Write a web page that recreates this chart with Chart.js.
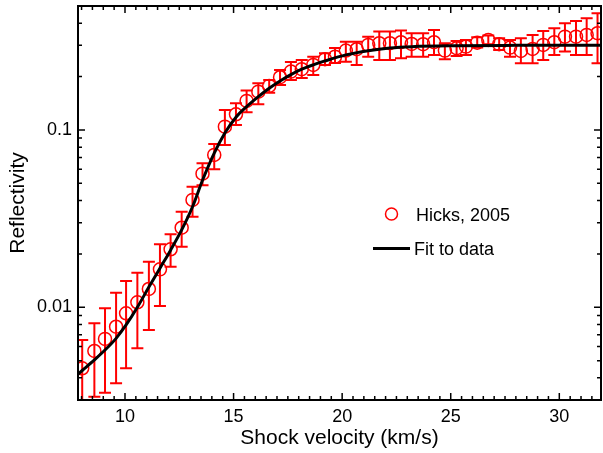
<!DOCTYPE html>
<html><head><meta charset="utf-8">
<script src="https://cdn.jsdelivr.net/npm/chart.js@4/dist/chart.umd.min.js"></script>
<style>html,body{margin:0;padding:0;background:#fff;} canvas{display:block;}</style>
</head><body>
<canvas id="c" width="603" height="453"></canvas>
<script>
// ---- data ----
const velocity = [8.03, 8.59, 9.08, 9.59, 10.05, 10.57, 11.10, 11.61, 12.10, 12.61, 13.11, 13.57, 14.11, 14.60, 15.11, 15.60, 16.14, 16.64, 17.14, 17.64, 18.14, 18.67, 19.21, 19.67, 20.17, 20.67, 21.20, 21.71, 22.20, 22.71, 23.20, 23.73, 24.23, 24.73, 25.27, 25.70, 26.22, 26.73, 27.23, 27.73, 28.23, 28.77, 29.26, 29.77, 30.26, 30.77, 31.26, 31.76];
const reflectivity = [0.00453, 0.00567, 0.00663, 0.00777, 0.00925, 0.01067, 0.01268, 0.01637, 0.02124, 0.0281, 0.0403, 0.0567, 0.0723, 0.1044, 0.1226, 0.1458, 0.1644, 0.1771, 0.1983, 0.2133, 0.2200, 0.2326, 0.2505, 0.2590, 0.2802, 0.2853, 0.3016, 0.3083, 0.3083, 0.3123, 0.3055, 0.3043, 0.3123, 0.2802, 0.2890, 0.2951, 0.3107, 0.3218, 0.3043, 0.2913, 0.2791, 0.2864, 0.3016, 0.3123, 0.3359, 0.3359, 0.3435, 0.3511];
const errHigh = [0.00654, 0.00813, 0.00987, 0.01209, 0.01407, 0.01567, 0.01807, 0.02266, 0.0258, 0.0346, 0.0479, 0.0649, 0.0834, 0.1297, 0.1414, 0.1667, 0.1834, 0.1914, 0.2181, 0.2418, 0.2482, 0.2590, 0.2708, 0.2901, 0.3148, 0.3148, 0.3359, 0.3585, 0.3585, 0.3632, 0.3511, 0.3511, 0.3664, 0.3083, 0.3177, 0.3218, 0.3333, 0.3404, 0.3290, 0.3218, 0.3290, 0.3435, 0.3617, 0.3746, 0.3997, 0.4119, 0.4266, 0.4551];
const errLow = [0.0025, 0.00313, 0.0033, 0.00373, 0.00453, 0.00587, 0.00745, 0.01017, 0.01694, 0.02197, 0.0324, 0.0488, 0.0600, 0.0823, 0.1067, 0.1258, 0.1396, 0.1623, 0.1794, 0.1914, 0.1965, 0.2043, 0.2326, 0.2387, 0.2428, 0.2326, 0.2590, 0.2482, 0.2482, 0.2538, 0.2590, 0.2590, 0.2649, 0.2505, 0.2614, 0.2649, 0.2913, 0.3043, 0.2827, 0.2590, 0.2378, 0.2378, 0.2482, 0.2649, 0.2765, 0.2649, 0.2649, 0.2378];
const fitVelocity = [7.84, 8.03, 8.59, 9.08, 9.59, 10.05, 10.57, 11.10, 11.61, 12.10, 12.61, 13.11, 13.57, 14.11, 14.60, 15.11, 15.60, 16.14, 16.64, 17.14, 17.64, 18.14, 18.67, 19.21, 20.17, 21.20, 22.20, 23.20, 25.27, 28.00, 31.92];
const fitReflectivity = [0.0042, 0.0044, 0.00505, 0.00574, 0.00668, 0.00795, 0.0100, 0.0130, 0.0166, 0.0210, 0.0273, 0.0369, 0.0520, 0.0740, 0.0960, 0.1180, 0.1353, 0.1541, 0.1719, 0.1890, 0.2050, 0.2200, 0.2330, 0.2450, 0.2650, 0.2800, 0.2900, 0.2950, 0.2985, 0.3000, 0.3005];
const xTickValues = [10, 15, 20, 25, 30];
const yTickValues = [0.01, 0.1];
const yTickLabels = ['0.01', '0.1'];
const legendLabels = ['Hicks, 2005', 'Fit to data'];
const xTitle = 'Shock velocity (km/s)';
const yTitle = 'Reflectivity';

const FONT = "'Liberation Sans', Arial, Helvetica, sans-serif";

const errorBarPlugin = {
  id: 'errbars',
  beforeDatasetsDraw(chart) {
    const {ctx, chartArea: a, scales: {x, y}} = chart;
    ctx.save();
    ctx.beginPath();
    ctx.rect(a.left, a.top, a.right - a.left, a.bottom - a.top);
    ctx.clip();
    ctx.strokeStyle = '#ff0000';
    ctx.lineWidth = 2;
    ctx.beginPath();
    velocity.forEach((v, i) => {
      const px = x.getPixelForValue(v);
      const hi = y.getPixelForValue(errHigh[i]);
      const lo = y.getPixelForValue(errLow[i]);
      ctx.moveTo(px, hi); ctx.lineTo(px, lo);
      ctx.moveTo(px - 6, hi); ctx.lineTo(px + 6, hi);
      ctx.moveTo(px - 6, lo); ctx.lineTo(px + 6, lo);
    });
    ctx.stroke();
    ctx.restore();
  }
};

const frameTickPlugin = {
  id: 'frameTicks',
  afterDraw(chart) {
    const {ctx, chartArea: a, scales: {x, y}} = chart;
    ctx.save();
    ctx.strokeStyle = '#000';
    ctx.lineWidth = 1.5;
    ctx.beginPath();
    const n0 = Math.ceil(x.min * 2), n1 = Math.floor(x.max * 2);
    for (let n = n0; n <= n1; n++) {
      const v = n / 2;
      const len = xTickValues.includes(v) ? 7 : 4;
      const px = x.getPixelForValue(v);
      ctx.moveTo(px, a.bottom); ctx.lineTo(px, a.bottom - len);
      ctx.moveTo(px, a.top); ctx.lineTo(px, a.top + len);
    }
    for (let d = -3; d <= -1; d++) {
      for (let m = 1; m <= 9; m++) {
        const v = m * Math.pow(10, d);
        if (v < y.min * 0.999 || v > y.max * 1.001) continue;
        const len = m === 1 ? 7 : 4;
        const py = y.getPixelForValue(v);
        ctx.moveTo(a.left, py); ctx.lineTo(a.left + len, py);
        ctx.moveTo(a.right, py); ctx.lineTo(a.right - len, py);
      }
    }
    ctx.stroke();
    ctx.lineWidth = 2;
    ctx.strokeRect(a.left, a.top, a.right - a.left, a.bottom - a.top);

    // legend
    ctx.fillStyle = '#000';
    ctx.font = '18px ' + FONT;
    ctx.textBaseline = 'alphabetic';
    ctx.textAlign = 'left';
    ctx.strokeStyle = '#ff0000';
    ctx.lineWidth = 1.5;
    ctx.beginPath();
    ctx.arc(391.5, 214, 6, 0, Math.PI * 2);
    ctx.stroke();
    ctx.fillText(legendLabels[0], 416, 220.5);
    ctx.strokeStyle = '#000';
    ctx.lineWidth = 3;
    ctx.beginPath();
    ctx.moveTo(373, 248.5); ctx.lineTo(410, 248.5);
    ctx.stroke();
    ctx.fillText(legendLabels[1], 414, 254.5);
    ctx.restore();
  }
};

new Chart(document.getElementById('c'), {
  type: 'scatter',
  data: {
    datasets: [
      {
        label: legendLabels[0],
        data: velocity.map((v, i) => ({x: v, y: reflectivity[i]})),
        showLine: false,
        pointStyle: 'circle',
        pointRadius: 6.5,
        pointBorderWidth: 1.5,
        borderColor: '#ff0000',
        backgroundColor: 'rgba(0,0,0,0)',
        order: 2
      },
      {
        label: legendLabels[1],
        data: fitVelocity.map((v, i) => ({x: v, y: fitReflectivity[i]})),
        showLine: true,
        borderColor: '#000',
        borderWidth: 3,
        pointRadius: 0,
        cubicInterpolationMode: 'monotone',
        fill: false,
        order: 1
      }
    ]
  },
  options: {
    responsive: false,
    animation: false,
    devicePixelRatio: 1,
    layout: {autoPadding: false, padding: {top: 6, right: 2, left: 0, bottom: 0}},
    plugins: {legend: {display: false}, tooltip: {enabled: false}},
    scales: {
      x: {
        type: 'linear', min: 7.836, max: 31.92,
        afterBuildTicks: s => { s.ticks = xTickValues.map(v => ({value: v})); },
        afterFit: s => { s.height = 53; s.paddingLeft = 0; s.paddingRight = 0; },
        grid: {display: false, drawTicks: false},
        border: {display: false},
        ticks: {padding: 6, color: '#000', font: {family: FONT, size: 18}, maxRotation: 0, autoSkip: false},
        title: {display: true, text: xTitle, color: '#000', font: {family: FONT, size: 21}, padding: {top: 0, bottom: 2}}
      },
      y: {
        type: 'logarithmic', min: 0.003, max: 0.5,
        afterBuildTicks: s => { s.ticks = yTickValues.map(v => ({value: v})); },
        afterFit: s => { s.width = 78; s.paddingTop = 0; s.paddingBottom = 0; },
        grid: {display: false, drawTicks: false},
        border: {display: false},
        ticks: {
          padding: 6, color: '#000', font: {family: FONT, size: 18}, autoSkip: false,
          callback: v => { const i = yTickValues.indexOf(v); return i >= 0 ? yTickLabels[i] : ''; }
        },
        title: {display: true, text: yTitle, color: '#000', font: {family: FONT, size: 21}, padding: {top: 6, bottom: 0}}
      }
    }
  },
  plugins: [errorBarPlugin, frameTickPlugin]
});
</script>
</body></html>
